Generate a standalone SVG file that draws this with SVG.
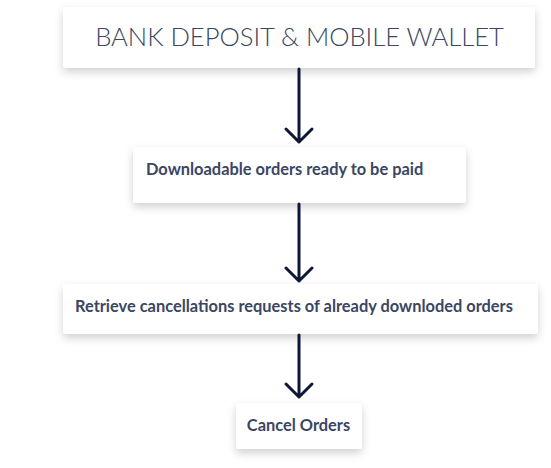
<svg xmlns="http://www.w3.org/2000/svg" width="551" height="468" viewBox="0 0 551 468">
<defs>
<filter id="sh" x="-20%" y="-40%" width="140%" height="200%">
<feDropShadow dx="0" dy="4" stdDeviation="4" flood-color="#000" flood-opacity="0.18"/>
</filter>
</defs>
<style>
.box{fill:#fff;filter:url(#sh)}
.t{font-family:Lato,"Liberation Sans",sans-serif;fill:#3a4662;font-weight:700;font-size:16.4px}
.title{font-family:Lato,"Liberation Sans",sans-serif;fill:#3a4662;font-weight:300;font-size:25.6px}
.c{fill:none;stroke:#0d1838;stroke-width:3;stroke-linecap:round;stroke-linejoin:round}
</style>
<rect width="551" height="468" fill="#fff"/>
<g id="n1"><rect class="box" x="63" y="7" width="472" height="61" rx="3"/><text class="title" x="299.5" y="46" text-anchor="middle">BANK DEPOSIT &amp; MOBILE WALLET</text></g>
<g id="n2"><rect class="box" x="133" y="147" width="333" height="56" rx="3"/><text class="t" x="146" y="175">Downloadable orders ready to be paid</text></g>
<g id="n3"><rect class="box" x="63" y="284" width="475" height="50" rx="3"/><text class="t" x="75" y="312">Retrieve cancellations requests of already downloded orders</text></g>
<g id="n4"><rect class="box" x="236" y="403" width="126" height="46" rx="3"/><text class="t" x="298.5" y="431" text-anchor="middle">Cancel Orders</text></g>
<g id="connectors">
<path class="c" d="M299 69V142M286 129L299 142L312 129"/>
<path class="c" d="M299 204V281M286 268L299 281L312 268"/>
<path class="c" d="M299 335V397M286 384L299 397L312 384"/>
</g>
</svg>
